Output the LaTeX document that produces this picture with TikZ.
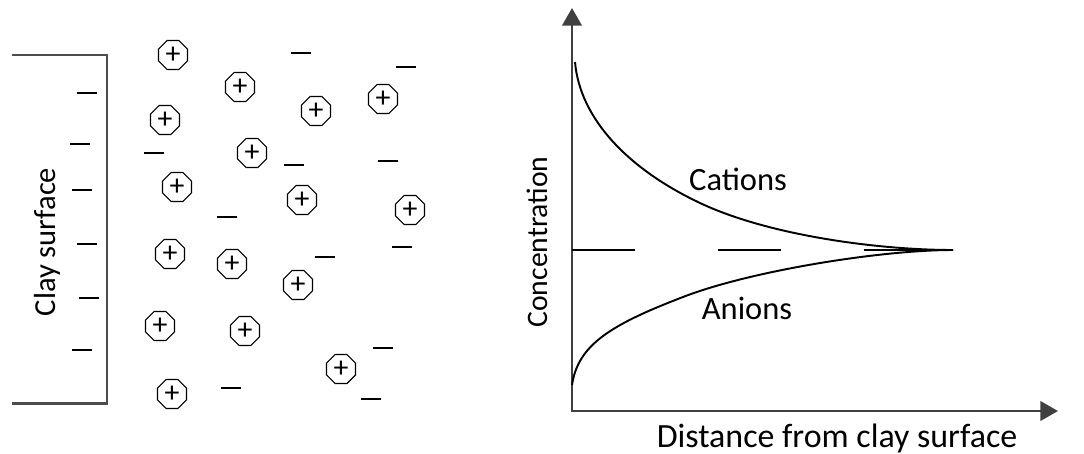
\documentclass[tikz,border=0pt]{standalone}
\usepackage{fontspec}
\setmainfont{Carlito}
\usetikzlibrary{arrows.meta,shapes.geometric}

\newcommand\lblfont{\fontsize{18.5}{20}\selectfont}
\newcommand\distfont{\fontsize{19.3}{21}\selectfont}
\newcommand\concfont{\fontsize{16.9}{18}\selectfont}
\newcommand\clayfont{\fontsize{17.4}{19}\selectfont}
\newcommand\plusfont{\fontsize{17}{17}\selectfont}

\tikzset{
  cation/.style={draw, regular polygon, regular polygon sides=8, minimum size=17.8pt, inner sep=0pt, line width=0.65pt, font=\plusfont},
  neg/.style={line width=1.1pt},
  wall/.style={line width=1.7pt, black!70},
  axis/.style={line width=1.6pt, black!75, >={Triangle[length=10pt,width=11pt]}},
  curve/.style={line width=1.1pt},
  level/.style={line width=0.9pt, dash pattern=on 36pt off 47pt}
}

\begin{document}
\begin{tikzpicture}[x=0.02cm, y=-0.02cm]
  \useasboundingbox (0,0) rectangle (1084,453);

  % clay wall with its negative charges
  \draw[wall] (12,55) -- (107,55) -- (107,403) -- (12,403);
  \node[rotate=90, anchor=base, font=\clayfont] (clay) at (55,242) {Clay surface};
  \foreach \x/\y in {87/93, 80/144, 82/190, 87/244, 89/298, 82/350}
    \draw[neg] (\x-10,\y) -- (\x+10,\y);

  % cations in the solution
  \foreach \x/\y [count=\i] in {173/55, 240/87, 165/120, 316/111, 383/99, 252/153,
      177/187, 302/200, 410/210, 170/254, 232/264, 298/285, 160/326, 245/331,
      341/369, 172/394}
    \node[cation] (c\i) at (\x,\y) {+};

  % anions in the solution
  \foreach \x/\y in {301/53, 406/67, 154/153, 294/165, 388/161, 227/217,
      325/257, 402/247, 383/348, 231/388, 371/399}
    \draw[neg] (\x-10,\y) -- (\x+10,\y);

  % concentration graph
  \coordinate (O) at (572,411);
  \coordinate (ytop) at (572,8);
  \coordinate (xend) at (1058,411);
  \coordinate (lvl0) at (572,250);
  \coordinate (lvl) at (953,250);
  \draw[axis, <->] (ytop) -- (O) -- (xend);
  \draw[level] (lvl0) -- (lvl);

  \draw[curve] (575,62) .. controls (580,120) and (630,170) .. (700,203)
      .. controls (770,236) and (880,250) .. (lvl);
  \draw[curve] (572,385) .. controls (578,345) and (610,325) .. (683,297)
      .. controls (750,271) and (880,250) .. (lvl);

  \node[font=\lblfont] (cat) at (738,179) {Cations};
  \node[font=\lblfont] (an) at (747,308) {Anions};
  \node[font=\distfont, anchor=base] (dist) at (837,447) {Distance from clay surface};
  \node[font=\concfont, rotate=90, anchor=base] (conc) at (547,242) {Concentration};
\end{tikzpicture}
\end{document}
